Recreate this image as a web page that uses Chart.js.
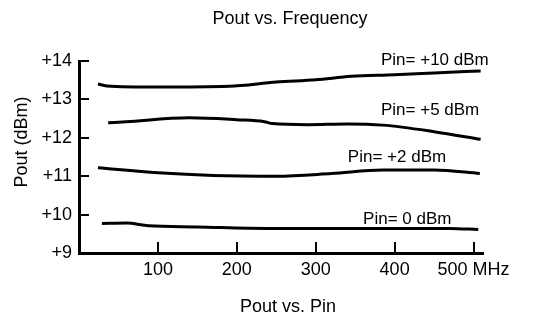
<!DOCTYPE html>
<html>
<head>
<meta charset="utf-8">
<script src="https://cdn.jsdelivr.net/npm/chart.js"></script>
<style>
  body { margin: 0; background: #fff; }
</style>
</head>
<body>
<canvas id="poutChart" width="556" height="318"></canvas>
<script>
// Pout vs. Frequency, one curve per input level
const freq10 = [24, 35, 100, 190, 250, 300, 345, 400, 450, 509];
const pout10 = [13.40, 13.35, 13.32, 13.34, 13.45, 13.51, 13.60, 13.64, 13.69, 13.74];

const freq5 = [37, 60, 140, 200, 235, 245, 290, 340, 385, 450, 509];
const pout5 = [12.39, 12.42, 12.52, 12.47, 12.42, 12.37, 12.34, 12.36, 12.33, 12.16, 11.96];

const freq2 = [24, 100, 170, 250, 320, 385, 450, 508];
const pout2 = [11.22, 11.09, 11.02, 11.00, 11.07, 11.16, 11.16, 11.07];

const freq0 = [29, 60, 88, 150, 238, 406, 470, 506];
const pout0 = [9.77, 9.78, 9.71, 9.68, 9.64, 9.64, 9.64, 9.61];

const seriesNames = ['Pin= +10 dBm', 'Pin= +5 dBm', 'Pin= +2 dBm', 'Pin= 0 dBm'];
const labelFreq = [451, 445, 403, 416];
const labelPout = [14.03, 12.72, 11.5, 9.89];

const xTicks = [100, 200, 300, 400, 500];
const yTicks = [9, 10, 11, 12, 13, 14];

const FONT = '"Liberation Sans", Arial, sans-serif';

function pts(xs, ys) {
  return xs.map((f, i) => ({ x: f, y: ys[i] }));
}

function curve(name, xs, ys) {
  return {
    label: name,
    data: pts(xs, ys),
    borderColor: '#000',
    borderWidth: 3,
    pointRadius: 0,
    tension: 0.4,
    cubicInterpolationMode: 'monotone',
    fill: false
  };
}

// short tick marks inside the axes, curve names and the titles
const innerTicks = {
  id: 'innerTicks',
  afterDraw(chart) {
    const { ctx, chartArea } = chart;
    const x = chart.scales.x, y = chart.scales.y;
    ctx.save();
    ctx.strokeStyle = '#000';
    ctx.lineWidth = 2;
    ctx.beginPath();
    xTicks.forEach(v => {
      const px = Math.round(x.getPixelForValue(v));
      ctx.moveTo(px, chartArea.bottom);
      ctx.lineTo(px, chartArea.bottom - 11);
    });
    yTicks.slice(1).forEach(v => {
      const py = Math.round(y.getPixelForValue(v));
      ctx.moveTo(chartArea.left, py);
      ctx.lineTo(chartArea.left + 10, py);
    });
    ctx.stroke();

    ctx.fillStyle = '#000';
    ctx.textAlign = 'center';
    ctx.textBaseline = 'middle';
    ctx.font = '17px ' + FONT;
    seriesNames.forEach((t, i) => {
      ctx.fillText(t, x.getPixelForValue(labelFreq[i]), y.getPixelForValue(labelPout[i]));
    });

    ctx.font = '18px ' + FONT;
    ctx.fillText('Pout vs. Frequency', 290, 19);
    ctx.fillText('Pout vs. Pin', 288, 307);
    ctx.translate(22, 142);
    ctx.rotate(-Math.PI / 2);
    ctx.fillText('Pout (dBm)', 0, 0);
    ctx.restore();
  }
};

new Chart(document.getElementById('poutChart').getContext('2d'), {
  type: 'line',
  data: {
    datasets: [
      curve(seriesNames[0], freq10, pout10),
      curve(seriesNames[1], freq5, pout5),
      curve(seriesNames[2], freq2, pout2),
      curve(seriesNames[3], freq0, pout0)
    ]
  },
  options: {
    responsive: false,
    animation: false,
    layout: { padding: { left: 0, right: 73, top: 61, bottom: 0 } },
    plugins: {
      legend: { display: false },
      tooltip: { enabled: false },
      title: { display: false }
    },
    scales: {
      x: {
        type: 'linear',
        min: 0,
        max: 512,
        afterBuildTicks: s => { s.ticks = xTicks.map(v => ({ value: v })); },
        afterFit: s => { s.height = 65; },
        grid: { display: false, drawTicks: false },
        border: { display: true, color: '#000', width: 3 },
        ticks: {
          color: '#000',
          padding: 6,
          maxRotation: 0,
          font: { size: 18, family: FONT },
          callback: v => (v === 500 ? '500 MHz' : String(v))
        }
      },
      y: {
        min: 9,
        max: 14,
        afterBuildTicks: s => { s.ticks = yTicks.map(v => ({ value: v })); },
        afterFit: s => { s.width = 79; },
        grid: { display: false, drawTicks: false },
        border: { display: true, color: '#000', width: 3 },
        ticks: {
          color: '#000',
          padding: 7,
          font: { size: 18, family: FONT },
          callback: v => '+' + v
        }
      }
    }
  },
  plugins: [innerTicks]
});
</script>
</body>
</html>
